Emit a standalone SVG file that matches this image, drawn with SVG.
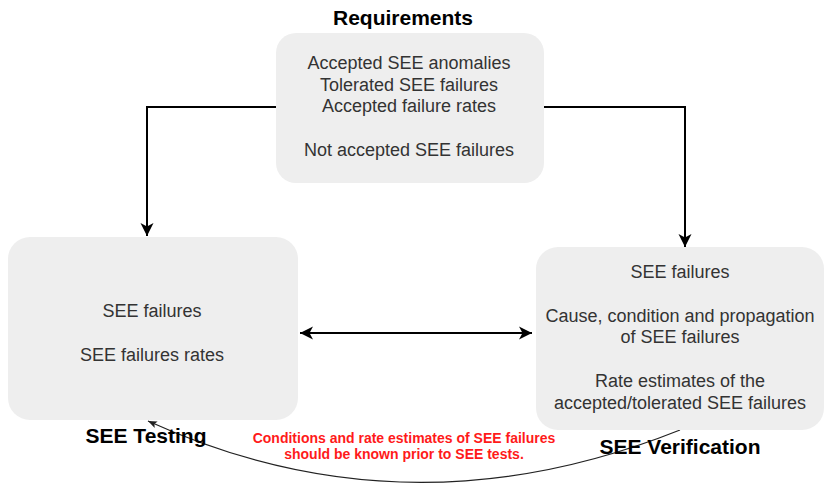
<svg xmlns="http://www.w3.org/2000/svg" width="824" height="483" viewBox="0 0 824 483">
  <style>
    .box { fill: #eeeeee; stroke: none; }
    .body { font-family: "Liberation Sans", Arial, sans-serif; font-size: 18px; fill: #333333; text-anchor: middle; }
    .title { font-family: "Liberation Sans", Arial, sans-serif; font-size: 21px; font-weight: bold; fill: #000000; text-anchor: middle; }
    .note { font-family: "Liberation Sans", Arial, sans-serif; font-size: 14px; font-weight: bold; fill: #ff1a1a; text-anchor: middle; }
    .edge { fill: none; stroke: #000000; stroke-width: 2; }
    .thin { fill: none; stroke: #222222; stroke-width: 1.2; }
  </style>
  <defs>
    <marker id="arrow" markerUnits="userSpaceOnUse" markerWidth="15" markerHeight="15" viewBox="0 0 15 15" refX="14" refY="7.5" orient="auto-start-reverse">
      <path d="M1,1 L14,7.5 L1,14 L4.5,7.5 Z" fill="#000000"/>
    </marker>
    <marker id="arrowThin" markerUnits="userSpaceOnUse" markerWidth="10" markerHeight="10" viewBox="0 0 10 10" refX="9.5" refY="5" orient="auto">
      <path d="M0.5,1.5 L9.5,5 L0.5,8.5 L2.5,5 Z" fill="#222222"/>
    </marker>
  </defs>

  <!-- connectors -->
  <g id="connectors">
    <path class="edge" d="M276,107 H147 V236" marker-end="url(#arrow)"/>
    <path class="edge" d="M544,107 H685 V247" marker-end="url(#arrow)"/>
    <path class="edge" d="M300,333 H532" marker-start="url(#arrow)" marker-end="url(#arrow)"/>
    <path class="thin" d="M680,430 Q407,539 148,421" marker-end="url(#arrowThin)"/>
  </g>

  <!-- requirements -->
  <g id="requirements">
    <text class="title" x="403" y="25">Requirements</text>
    <rect class="box" x="276" y="33" width="268" height="150" rx="20" ry="20"/>
    <text class="body" x="409" y="69">Accepted SEE anomalies</text>
    <text class="body" x="409" y="91">Tolerated SEE failures</text>
    <text class="body" x="409" y="112">Accepted failure rates</text>
    <text class="body" x="409" y="156">Not accepted SEE failures</text>
  </g>

  <!-- SEE testing -->
  <g id="see-testing">
    <rect class="box" x="8" y="237" width="290" height="183" rx="22" ry="22"/>
    <text class="body" x="152" y="317">SEE failures</text>
    <text class="body" x="152" y="361">SEE failures rates</text>
    <text class="title" x="146" y="443">SEE Testing</text>
  </g>

  <!-- SEE verification -->
  <g id="see-verification">
    <rect class="box" x="536" y="247" width="288" height="183" rx="22" ry="22"/>
    <text class="body" x="680" y="278">SEE failures</text>
    <text class="body" x="680" y="322">Cause, condition and propagation</text>
    <text class="body" x="680" y="343">of SEE failures</text>
    <text class="body" x="680" y="387">Rate estimates of the</text>
    <text class="body" x="680" y="409">accepted/tolerated SEE failures</text>
    <text class="title" x="680" y="454">SEE Verification</text>
  </g>

  <!-- prerequisite note on the feedback edge -->
  <g id="note">
    <text class="note" x="404" y="443">Conditions and rate estimates of SEE failures</text>
    <text class="note" x="404" y="459">should be known prior to SEE tests.</text>
  </g>
</svg>
